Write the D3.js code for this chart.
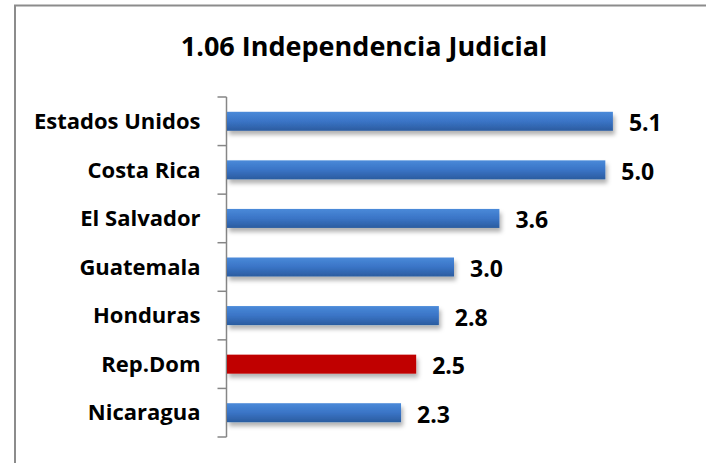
<!DOCTYPE html>
<html>
<head>
<meta charset="utf-8">
<script src="https://cdn.jsdelivr.net/npm/d3@7"></script>
<style>
  body { margin: 0; background: #fff; }
  svg text { font-family: "Open Sans", Lato, sans-serif; font-weight: bold; fill: #000; }
</style>
</head>
<body>
<div id="chart"></div>
<script>
var width = 706;
var height = 463;

var titleText = "1.06 Independencia Judicial";
var countries = ["Estados Unidos", "Costa Rica", "El Salvador", "Guatemala", "Honduras", "Rep.Dom", "Nicaragua"];
var scores = [5.1, 5.0, 3.6, 3.0, 2.8, 2.5, 2.3];
var highlight = "Rep.Dom";

var data = countries.map(function (c, i) { return { name: c, value: scores[i] }; });

var svg = d3.select("#chart")
    .append("svg")
    .attr("width", width)
    .attr("height", height);

var defs = svg.append("defs");

var grad = defs.append("linearGradient")
    .attr("id", "blueGrad")
    .attr("x1", 0).attr("y1", 0).attr("x2", 0).attr("y2", 1);
grad.append("stop").attr("offset", "0%").attr("stop-color", "#4a8ad9");
grad.append("stop").attr("offset", "50%").attr("stop-color", "#3a74c6");
grad.append("stop").attr("offset", "100%").attr("stop-color", "#2b5c9f");

var shadow = defs.append("filter")
    .attr("id", "shadow")
    .attr("x", "-10%").attr("y", "-30%")
    .attr("width", "130%").attr("height", "190%");
shadow.append("feDropShadow")
    .attr("dx", 2).attr("dy", 4)
    .attr("stdDeviation", 2)
    .attr("flood-color", "#000")
    .attr("flood-opacity", 0.3);

// chart border (right/bottom edges run off the picture)
svg.append("rect")
    .attr("x", 15)
    .attr("y", 5.5)
    .attr("width", 720)
    .attr("height", 480)
    .attr("fill", "none")
    .attr("stroke", "#8c8c8c")
    .attr("stroke-width", 2);

svg.append("text")
    .attr("x", 364)
    .attr("y", 56)
    .attr("text-anchor", "middle")
    .style("font-size", "27px")
    .text(titleText);

var x = d3.scaleLinear().domain([0, 6]).range([227, 681]);
var yBand = d3.scaleBand().domain(countries).range([97, 437]);

// category axis with ticks between bands
var axis = svg.append("g")
    .attr("transform", "translate(226.5,0)");
axis.append("line")
    .attr("y1", 97).attr("y2", 437)
    .attr("stroke", "#868686").attr("stroke-width", 1.5);
var tickPos = countries.map(function (c) { return yBand(c); }).concat([437]);
axis.selectAll(".tick")
    .data(tickPos)
    .enter()
    .append("line")
    .attr("x1", -9).attr("x2", 0)
    .attr("y1", function (d) { return d; })
    .attr("y2", function (d) { return d; })
    .attr("stroke", "#868686").attr("stroke-width", 1.5);

axis.selectAll(".lbl")
    .data(countries)
    .enter()
    .append("text")
    .attr("x", -26)
    .attr("y", function (d) { return yBand(d) + yBand.bandwidth() / 2; })
    .attr("dy", "0.35em")
    .attr("text-anchor", "end")
    .style("font-size", "22px")
    .text(function (d) { return d; });

svg.selectAll(".bar")
    .data(data)
    .enter()
    .append("rect")
    .attr("class", "bar")
    .attr("x", x(0))
    .attr("y", function (d) { return yBand(d.name) + yBand.bandwidth() / 2 - 9.5; })
    .attr("width", function (d) { return x(d.value) - x(0); })
    .attr("height", 19)
    .attr("fill", function (d) { return d.name === highlight ? "#c00000" : "url(#blueGrad)"; })
    .attr("filter", "url(#shadow)");

svg.selectAll(".val")
    .data(data)
    .enter()
    .append("text")
    .attr("x", function (d) { return x(d.value) + 16; })
    .attr("y", function (d) { return yBand(d.name) + yBand.bandwidth() / 2 + 2; })
    .attr("dy", "0.35em")
    .style("font-size", "23px")
    .text(function (d) { return d.value.toFixed(1); });
</script>
</body>
</html>
